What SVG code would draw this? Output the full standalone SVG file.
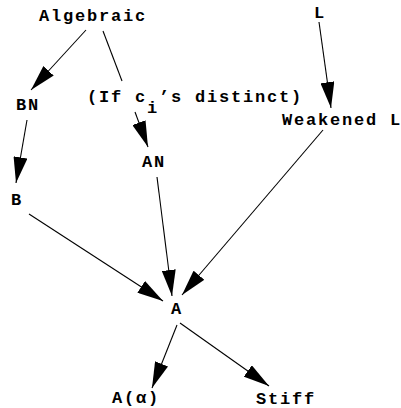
<svg xmlns="http://www.w3.org/2000/svg" width="401" height="408" viewBox="0 0 401 408">
<style>
.t{font-family:"Liberation Mono","Courier New",monospace;font-weight:bold;font-size:17px;letter-spacing:1.8px;fill:#000}
.e{stroke:#000;stroke-width:1.1;fill:none;marker-end:url(#ah)}
.p{stroke:#000;stroke-width:1.1;fill:none}
</style>
<defs>
<marker id="ah" markerUnits="userSpaceOnUse" viewBox="0 0 26 14" markerWidth="26" markerHeight="14" refX="26" refY="7" orient="auto">
<path d="M0,0 L26,7 L0,14 z" fill="#000"/>
</marker>
</defs>
<rect width="401" height="408" fill="#fff"/>
<g id="connectors">
<line class="e" x1="86" y1="30" x2="31" y2="90"/>
<line class="p" x1="103" y1="31" x2="122" y2="81"/>
<line class="e" x1="135" y1="112" x2="148" y2="147"/>
<line class="e" x1="319" y1="22" x2="331" y2="108"/>
<line class="e" x1="27" y1="120" x2="16" y2="183"/>
<line class="e" x1="157" y1="177" x2="172" y2="296"/>
<line class="e" x1="29" y1="214" x2="163" y2="301"/>
<line class="e" x1="323" y1="130" x2="182" y2="295"/>
<line class="e" x1="177" y1="325" x2="152" y2="388"/>
<line class="e" x1="180" y1="323" x2="269" y2="386"/>
</g>
<g id="algebraic"><text class="t" x="39" y="21">Algebraic</text></g>
<g id="l"><text class="t" x="314" y="18">L</text></g>
<g id="bn"><text class="t" x="16" y="110">BN</text></g>
<g id="cond"><text class="t" x="87" y="102">(If c<tspan dy="11">i</tspan><tspan dy="-11">’s distinct)</tspan></text></g>
<g id="weakened-l"><text class="t" x="282" y="125">Weakened L</text></g>
<g id="an"><text class="t" x="142" y="167">AN</text></g>
<g id="b"><text class="t" x="11" y="205">B</text></g>
<g id="a"><text class="t" x="171" y="314">A</text></g>
<g id="a-alpha"><text class="t" x="112" y="403">A(α)</text></g>
<g id="stiff"><text class="t" x="256" y="404">Stiff</text></g>
</svg>
